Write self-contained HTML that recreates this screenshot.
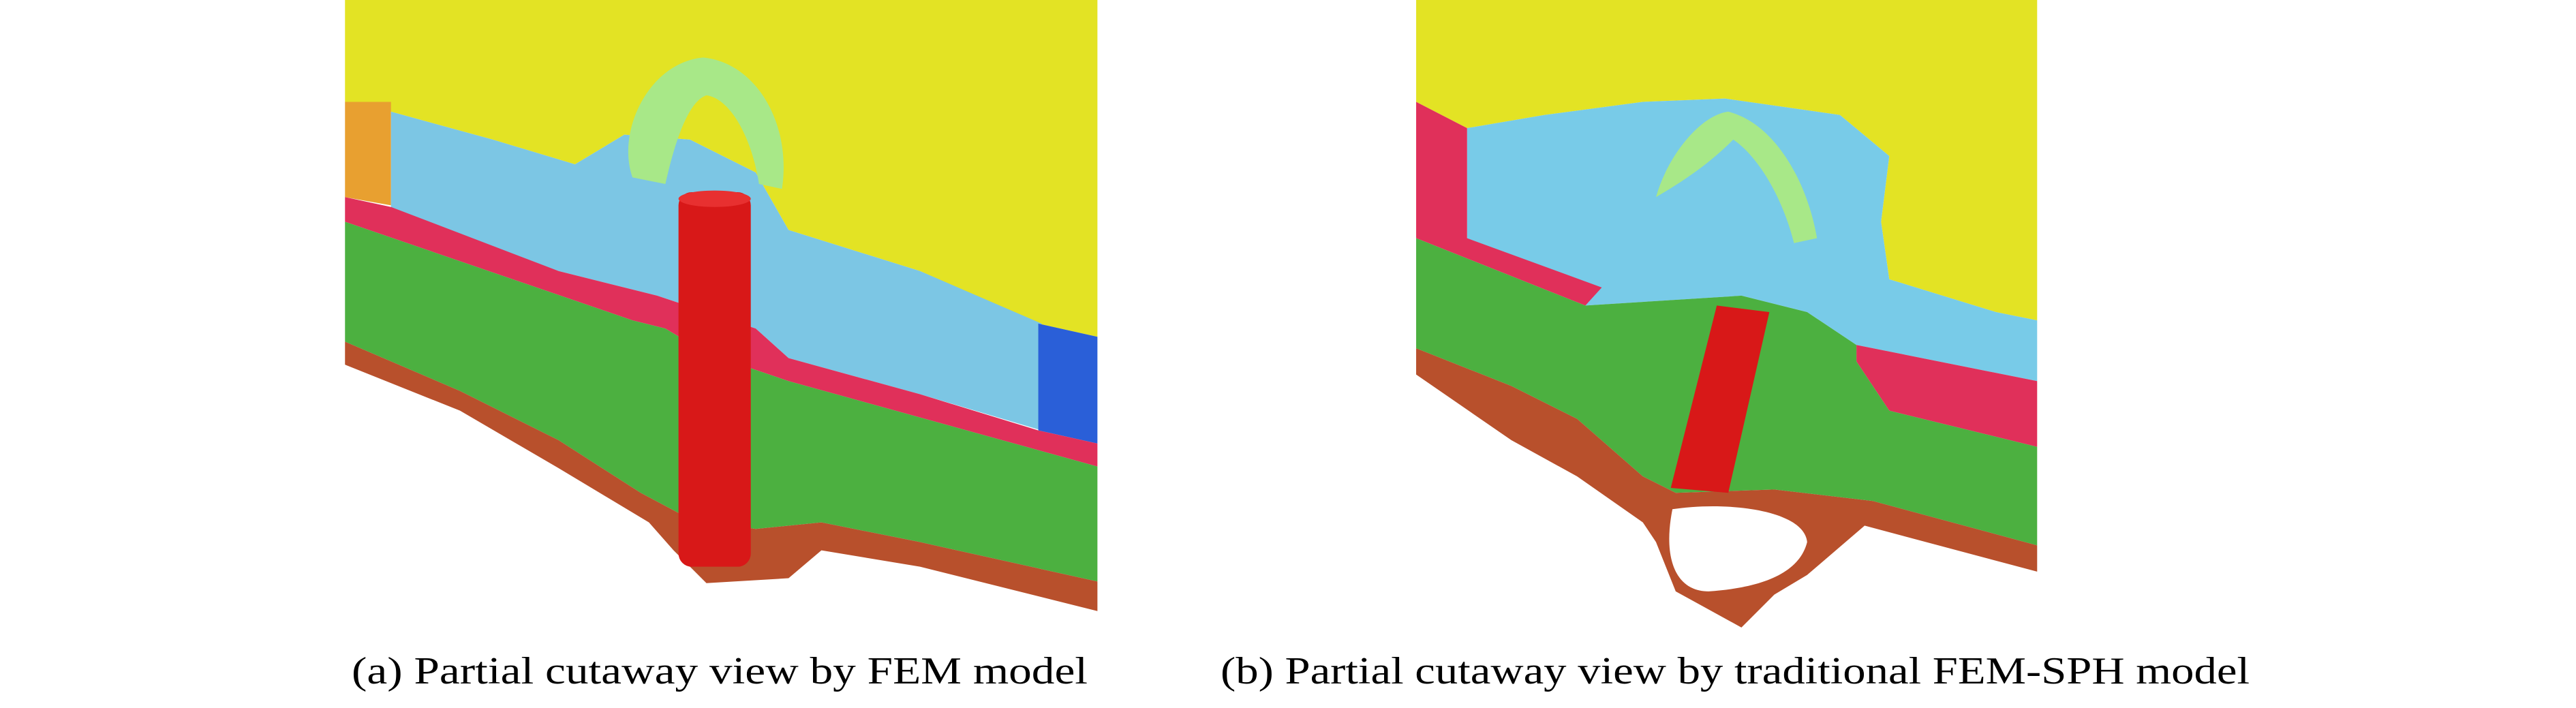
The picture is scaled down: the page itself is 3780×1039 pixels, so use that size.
<!DOCTYPE html>
<html><head><meta charset="utf-8"><style>
html,body{margin:0;padding:0;background:#fff;width:3780px;height:1039px;overflow:hidden}
svg{position:absolute;left:0;top:0}
</style></head><body>
<svg width="3780" height="1039" viewBox="0 0 1568 431" preserveAspectRatio="none">
<defs>
<pattern id="m" width="3" height="3" patternUnits="userSpaceOnUse"><path d="M0 0.3H3M0.3 0V3" stroke="#000" stroke-opacity="0.35" stroke-width="0.6" fill="none"/></pattern>
<g id="L">
<polygon points="210,0 668,0 668,205 632,197 560,165 480,140 460,105 420,85 380,82 350,100 300,85 238,68 210,62" fill="#e3e324"/>
<polygon points="210,62 238,62 238,125 210,120" fill="#e8a030"/>
<polygon points="238,68 300,85 350,100 380,82 420,85 460,105 480,140 560,165 634,197 634,262 560,240 480,218 460,200 400,180 340,165 238,130" fill="#7cc6e4"/>
<polygon points="632,197 668,205 668,270 632,262" fill="#2a5fd8"/>
<polygon points="210,120 238,126 340,165 400,180 460,200 480,218 560,240 632,262 668,270 668,284 480,232 430,215 405,200 385,195 210,135" fill="#e0305a"/>
<polygon points="210,135 385,195 405,200 430,215 480,232 668,284 668,354 560,330 500,318 460,322 420,316 390,300 340,268 280,238 210,208" fill="#4cb040"/>
<polygon points="210,208 280,238 340,268 390,300 420,316 460,322 500,318 560,330 668,354 668,372 560,345 500,335 480,352 430,355 410,335 395,318 340,285 280,250 210,222" fill="#b8502c"/>
<path d="M385,108 C375,80 395,38 428,35 C460,38 482,75 476,115 L462,112 C458,85 445,60 430,58 C418,62 410,90 405,112 Z" fill="#a8e888"/>
<rect x="413" y="117" width="44" height="228" rx="8" fill="#d81818"/>
<ellipse cx="435" cy="121" rx="22" ry="5" fill="#e83030"/>
</g>
<g id="R">
<polygon points="862,0 1240,0 1240,195 1215,190 1150,170 1145,135 1150,95 1120,70 1050,60 1000,62 940,70 893,78 862,62" fill="#e3e324"/>
<polygon points="893,78 940,70 1000,62 1050,60 1120,70 1150,95 1145,135 1150,170 1215,190 1240,195 1240,232 1130,210 1100,190 1060,180 965,186 893,145" fill="#78cbe8"/>
<polygon points="862,62 893,78 893,145 975,175 965,186 862,145" fill="#e0305a"/>
<polygon points="1130,210 1240,232 1240,272 1150,250 1130,220" fill="#e0305a"/>
<polygon points="862,145 965,186 1060,180 1100,190 1130,210 1130,220 1150,250 1240,272 1240,332 1140,305 1080,298 1020,300 1000,290 960,255 920,235 862,212" fill="#4cb040"/>
<polygon points="862,212 920,235 960,255 1000,290 1020,300 1080,298 1140,305 1240,332 1240,348 1135,320 1100,350 1080,362 1060,382 1020,360 1008,330 1000,318 960,290 920,268 862,228" fill="#b8502c"/>
<path d="M1018,310 C1050,305 1098,310 1100,330 C1095,350 1070,358 1040,360 C1020,360 1012,340 1018,310Z" fill="#fff"/>
<path d="M1008,120 C1015,95 1035,70 1052,68 C1080,75 1100,110 1106,145 L1092,148 C1085,120 1070,95 1055,85 C1040,100 1025,110 1008,120Z" fill="#a8e888"/>
<polygon points="1045,186 1077,190 1052,300 1017,297" fill="#d81818"/>
</g>
<clipPath id="cL"><use href="#L"/></clipPath>
<clipPath id="cR"><use href="#R"/></clipPath>
</defs>
<use href="#L"/>
<rect x="210" y="0" width="460" height="380" fill="url(#m)" clip-path="url(#cL)"/>
<use href="#R"/>
<rect x="862" y="0" width="380" height="390" fill="url(#m)" clip-path="url(#cR)"/>
</svg>
<svg width="3780" height="1039" viewBox="0 0 3780 1039">
<text x="1056" y="1003" font-family="Liberation Serif, serif" font-size="56" text-anchor="middle" textLength="1080" lengthAdjust="spacingAndGlyphs">(a) Partial cutaway view by FEM model</text>
<text x="2546" y="1003" font-family="Liberation Serif, serif" font-size="56" text-anchor="middle" textLength="1510" lengthAdjust="spacingAndGlyphs">(b) Partial cutaway view by traditional FEM-SPH model</text>
</svg>
</body></html>
